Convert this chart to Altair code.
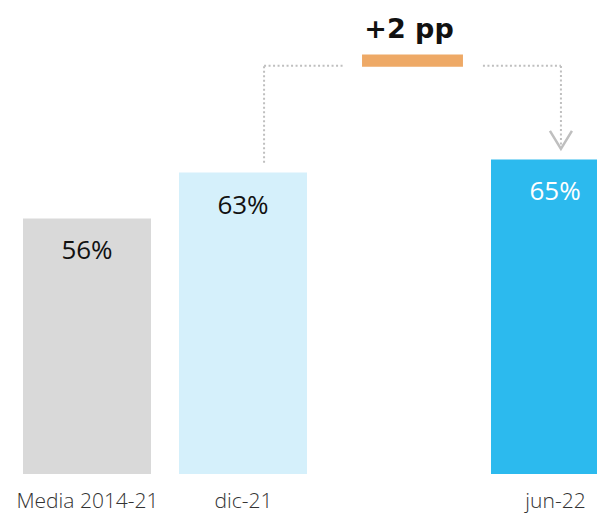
import altair as alt
import pandas as pd

# ---- data ----
categories = ["Media 2014-21", "dic-21", "jun-22"]
slots = [0, 1, 3]            # slot index of each bar (slot 2 is the empty gap)
values = [56, 63, 65]
labels = ["56%", "63%", "65%"]
bar_colors = ["#D9D9D9", "#D5F0FB", "#2CBAEE"]
label_colors = ["#111111", "#111111", "#FFFFFF"]

delta_text = "+2 pp"
# connector path (slot units, value units)
conn_left_x = 1.135
conn_right_x = 3.038
conn_level = 79.3
conn_left_bottom = 64.5
conn_right_bottom = 66.6
gap_left_end = 1.641
gap_right_start = 2.538
badge_x = [1.763, 2.410]
badge_y = [79.15, 81.0]
delta_pos = (2.064, 83.5)   # text baseline

bars = pd.DataFrame({"cat": categories, "slot": slots, "value": values,
                     "label": labels, "color": bar_colors, "lcolor": label_colors})

x_scale = alt.Scale(domain=[-0.5064, 3.2692], nice=False, zero=False, padding=0)
y_scale = alt.Scale(domain=[17, 88.1], nice=False, zero=False, padding=0)

label_expr = " : ".join(
    [f"datum.value == {s} ? '{c}'" for s, c in zip(slots, categories)] + ["''"])

FONT = "Open Sans"

base = alt.Chart(bars)

bar_layer = base.mark_bar(size=128, clip=True).encode(
    x=alt.X("slot:Q", scale=x_scale,
            axis=alt.Axis(values=slots, labelExpr=label_expr, title=None,
                          grid=False, domain=False, ticks=False,
                          labelFont=FONT, labelFontSize=21, labelFontWeight=300,
                          labelColor="#333333", labelPadding=16)),
    y=alt.Y("value:Q", scale=y_scale, axis=None),
    y2=alt.datum(17),
    color=alt.Color("color:N", scale=None),
)

text_layer = base.mark_text(font=FONT, fontSize=26, baseline="middle",
                            dy=33, clip=True).encode(
    x="slot:Q", y="value:Q", text="label:N",
    color=alt.Color("lcolor:N", scale=None),
)

# connectors
vert = pd.DataFrame({"x": [conn_left_x, conn_right_x],
                     "y1": [conn_left_bottom, conn_right_bottom],
                     "y2": [conn_level, conn_level]})
horiz = pd.DataFrame({"x1": [conn_left_x, gap_right_start],
                      "x2": [gap_left_end, conn_right_x],
                      "y": [conn_level, conn_level]})
dash = [2, 2.5]
vert_layer = alt.Chart(vert).mark_rule(color="#BFBFBF", strokeWidth=2,
                                       strokeDash=dash).encode(
    x="x:Q", y="y1:Q", y2="y2:Q")
horiz_layer = alt.Chart(horiz).mark_rule(color="#BFBFBF", strokeWidth=2,
                                         strokeDash=dash).encode(
    x="x1:Q", x2="x2:Q", y="y:Q")

arrow = pd.DataFrame({"x": [conn_right_x], "y": [conn_right_bottom]})
arrow_layer = alt.Chart(arrow).mark_point(
    shape="M-1,-1.64L0,0L1,-1.64", size=484, filled=False,
    color="#BFBFBF", strokeWidth=2.5, opacity=1).encode(x="x:Q", y="y:Q")

badge = pd.DataFrame({"x1": [badge_x[0]], "x2": [badge_x[1]],
                      "y1": [badge_y[0]], "y2": [badge_y[1]]})
badge_layer = alt.Chart(badge).mark_rect(color="#EEA966").encode(
    x="x1:Q", x2="x2:Q", y="y1:Q", y2="y2:Q")

delta = pd.DataFrame({"x": [delta_pos[0]], "y": [delta_pos[1]], "t": [delta_text]})
delta_layer = alt.Chart(delta).mark_text(font="DejaVu Sans", fontSize=27,
                                         fontWeight="bold", baseline="alphabetic",
                                         color="#111111").encode(
    x="x:Q", y="y:Q", text="t:N")

chart = alt.layer(bar_layer, text_layer, vert_layer, horiz_layer, arrow_layer,
                  badge_layer, delta_layer).properties(
    width=589, height=466,
    autosize=alt.AutoSizeParams(type="none"),
    padding={"left": 0, "top": 0, "right": 0, "bottom": 39},
).configure(background="white").configure_view(strokeWidth=0, stroke="transparent")

chart.save("out.html", embed_options={"renderer": "svg", "actions": False})
